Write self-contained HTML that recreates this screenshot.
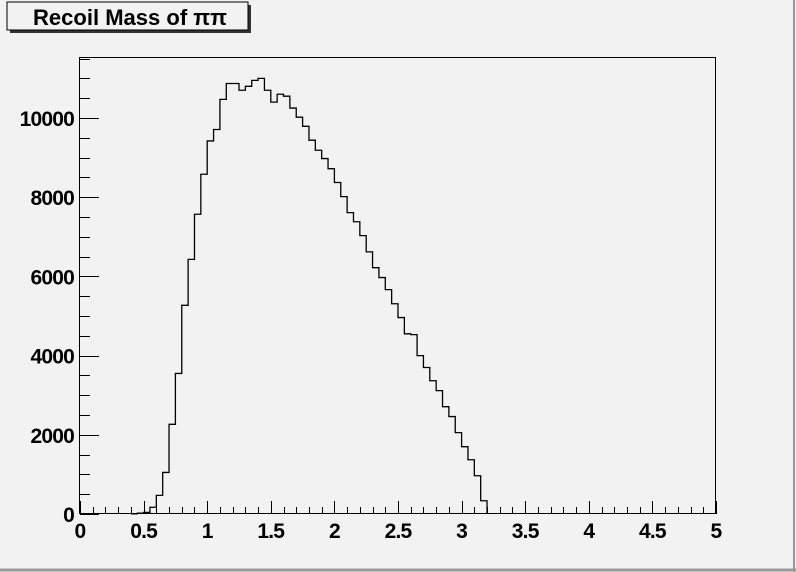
<!DOCTYPE html>
<html><head><meta charset="utf-8"><style>
html,body{margin:0;padding:0;background:#f2f2f2;}
svg{display:block;font-family:"Liberation Sans",sans-serif;}
</style></head><body>
<svg id="chart" width="796" height="572">
<rect x="0" y="0" width="796" height="572" fill="#f2f2f2"/>
<line x1="0" y1="570" x2="796" y2="570" stroke="#999" stroke-width="3"/>
<line x1="794" y1="0" x2="794" y2="572" stroke="#999" stroke-width="2"/>
<g>
<rect x="10" y="5" width="241" height="28" fill="#333"/>
<rect x="7" y="2" width="241" height="28" fill="#f2f2f2" stroke="#000" stroke-width="1"/>
<text x="130" y="25" text-anchor="middle" font-size="22" font-weight="bold" textLength="194" lengthAdjust="spacingAndGlyphs">Recoil Mass of ππ</text>
</g>
<rect x="79.5" y="57.5" width="636" height="456" fill="none" stroke="#000" stroke-width="1"/>
<g id="axes"></g>
<path id="hist" fill="none" stroke="#000" stroke-width="1.3"/>
</svg>
<script>
const binStart = 0.40;
const binWidth = 0.05;
const counts = [5,20,40,170,470,1050,2265,3550,5270,6430,7570,8580,9420,9710,10470,10870,10870,10700,10800,10950,11000,10700,10400,10600,10550,10250,10020,9790,9440,9185,8975,8720,8370,8015,7610,7380,7030,6620,6220,5970,5665,5310,4960,4550,4530,4000,3700,3365,3115,2710,2460,2055,1700,1370,965,335];
const xTickLabels = ["0","0.5","1","1.5","2","2.5","3","3.5","4","4.5","5"];
const yTickLabels = ["0","2000","4000","6000","8000","10000"];
const X0=80, X1=716, Y0=514, Ymax=11540, YT=57;
function sx(v){return X0+(v/5)*(X1-X0);}
function sy(v){return Y0-(v/Ymax)*(Y0-YT);}
const NS="http://www.w3.org/2000/svg";
const axes=document.getElementById('axes');
function line(x1,y1,x2,y2,name){const l=document.createElementNS(NS,'line');l.setAttribute('x1',x1);l.setAttribute('y1',y1);l.setAttribute('x2',x2);l.setAttribute('y2',y2);l.setAttribute('stroke','#000');l.setAttribute('stroke-width','1');


axes.appendChild(l);}
function text(x,y,s,anchor,name){const t=document.createElementNS(NS,'text');t.setAttribute('x',x);t.setAttribute('y',y);t.setAttribute('text-anchor',anchor);t.setAttribute('font-size','21');t.setAttribute('font-weight','bold');t.setAttribute('letter-spacing','-0.8');t.textContent=s;


axes.appendChild(t);}
for(let i=0;i<=50;i++){const v=i*0.1;const x=Math.round(sx(v))+0.5;const major=i%5===0;line(x,514,x,major?501:507,major?'x-major-tick':'x-minor-tick');}
xTickLabels.forEach(s=>{const v=parseFloat(s);text(sx(v),538,s,'middle','x-tick-label');});
for(let v=0;v<=Ymax;v+=500){const y=Math.round(sy(v))+0.5;const major=v%2000===0;line(80,y,major?99:90,y,major?'y-major-tick':'y-minor-tick');}
yTickLabels.forEach(s=>{const v=parseFloat(s);text(74,sy(v)+8,s,'end','y-tick-label');});
let d='M'+sx(binStart)+','+sy(0);
counts.forEach((c,i)=>{const a=sx(binStart+i*binWidth),b=sx(binStart+(i+1)*binWidth);d+=' L'+a+','+sy(c)+' L'+b+','+sy(c);});
d+=' L'+sx(binStart+counts.length*binWidth)+','+sy(0);
document.getElementById('hist').setAttribute('d',d);
</script>
</body></html>
